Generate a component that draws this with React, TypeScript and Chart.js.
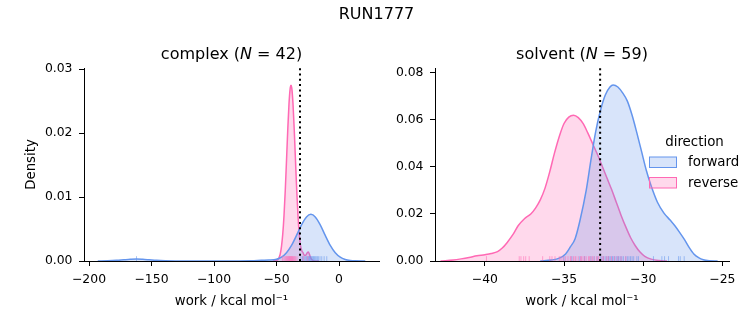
import React, { useEffect, useRef } from "react";
import { Chart, registerables } from "chart.js";

Chart.register(...registerables);

const FONT = '"DejaVu Sans", "Liberation Sans", sans-serif';

// ---------- text ----------
const FIG_TITLE = "RUN1777";
const PANEL_NAMES = ["complex", "solvent"];
const PANEL_COUNTS = [42, 59];
const HUE_NAMES = ["forward", "reverse"];
const LEGEND_TITLE = "direction";
const X_TITLE = "work / kcal mol\u207B\u00B9";
const Y_TITLE = "Density";

// ---------- axes ----------
const complexXRange = [-204, 32];
const complexYMax = 0.0302;
const complexXTicks = [-200, -150, -100, -50, 0];
const complexYTicks = [0, 0.01, 0.02, 0.03];

const solventXRange = [-43.15, -24.58];
const solventYMax = 0.0821;
const solventXTicks = [-40, -35, -30, -25];
const solventYTicks = [0, 0.02, 0.04, 0.06, 0.08];

// ---------- density curves ----------
const complexForwardX = [-193, -185, -178, -172, -167, -162, -157, -152, -146, -139, -131, -120, -100, -80, -70, -62, -56, -50, -46, -42, -38, -34, -30, -26, -22.5, -19, -15, -11, -7, -3, 1, 5, 9, 13, 21];
const complexForwardY = [0.00001, 0.00004, 0.0001, 0.00019, 0.00026, 0.0003, 0.00026, 0.00019, 0.0001, 0.00004, 0.00001, 0, 0, 0, 0.00002, 0.0001, 0.00015, 0.00028, 0.0006, 0.0013, 0.00245, 0.004, 0.00566, 0.0069, 0.0073, 0.0069, 0.00566, 0.004, 0.00245, 0.0013, 0.0006, 0.00024, 0.00008, 0.00002, 0];

const complexReverseX = [-53, -50, -49, -48, -47, -46, -45, -44, -43, -42, -41, -40, -39, -38.4, -37.8, -36.8, -35.8, -34.8, -33.8, -32.8, -31.8, -30.8, -29.8, -28.8, -27.8, -26.6, -25.4, -24.5, -23.6, -22.6, -21.6, -20.5, -18, -16];
const complexReverseY = [0, 0.0001, 0.0002, 0.0005, 0.0011, 0.0023, 0.0042, 0.0071, 0.011, 0.0157, 0.0205, 0.0246, 0.0271, 0.0275, 0.0271, 0.0246, 0.0205, 0.0157, 0.011, 0.0071, 0.0042, 0.0024, 0.0016, 0.0013, 0.0009, 0.0009, 0.0013, 0.0014, 0.001, 0.0005, 0.0002, 0.00005, 0, 0];

const solventForwardX = [-36.5, -35.8, -35.3, -34.9, -34.6, -34.3, -34.0, -33.6, -33.3, -33.0, -32.7, -32.4, -32.1, -31.9, -31.6, -31.3, -31.0, -30.7, -30.4, -30.1, -29.8, -29.5, -29.1, -28.7, -28.3, -28.0, -27.7, -27.4, -27.1, -26.8, -26.5, -26.2, -25.8, -25.3];
const solventForwardY = [0, 0.0004, 0.0012, 0.003, 0.006, 0.0095, 0.017, 0.03, 0.043, 0.055, 0.064, 0.0705, 0.074, 0.0749, 0.074, 0.0715, 0.068, 0.062, 0.0545, 0.0465, 0.0385, 0.032, 0.025, 0.0205, 0.0174, 0.015, 0.0122, 0.0092, 0.0058, 0.003, 0.0014, 0.0005, 0.0001, 0];

const solventReverseX = [-42.8, -42.5, -42.0, -41.5, -41.0, -40.5, -40.0, -39.6, -39.2, -38.9, -38.6, -38.2, -37.9, -37.5, -37.1, -36.8, -36.5, -36.2, -35.9, -35.6, -35.3, -35.0, -34.7, -34.4, -34.1, -33.8, -33.5, -33.2, -32.9, -32.6, -32.3, -32.0, -31.7, -31.4, -31.1, -30.8, -30.5, -30.2, -29.9, -29.5, -29.0, -28.5];
const solventReverseY = [0, 0.0001, 0.0004, 0.0009, 0.0015, 0.0022, 0.0027, 0.0032, 0.004, 0.0055, 0.0078, 0.0115, 0.015, 0.018, 0.02, 0.0225, 0.026, 0.031, 0.038, 0.046, 0.053, 0.0585, 0.0612, 0.062, 0.061, 0.0585, 0.0545, 0.05, 0.0455, 0.0405, 0.0355, 0.0305, 0.025, 0.0195, 0.0145, 0.01, 0.0065, 0.0038, 0.002, 0.0008, 0.0002, 0];

// ---------- rug samples ----------
const complexForwardRug = [-162, -30.5, -29.2, -28.1, -27.2, -26.3, -25.6, -24.9, -24.3, -23.6, -23.0, -22.4, -21.8, -21.1, -20.4, -19.7, -19.0, -18.2, -17.3, -16.5, -15.2, -13.8, -11.9, -9.8];
const complexReverseRug = [-45.3, -44.1, -43.2, -42.5, -41.9, -41.3, -40.8, -40.3, -39.9, -39.5, -39.1, -38.7, -38.3, -37.9, -37.5, -37.1, -36.6, -36.1, -35.5, -34.7, -33.6, -28.6, -25.0];
const solventForwardRug = [-35.0, -34.5, -34.0, -33.7, -33.3, -33.1, -32.9, -32.7, -32.6, -32.5, -32.4, -32.3, -32.2, -32.15, -32.05, -31.95, -31.9, -31.8, -31.7, -31.6, -31.55, -31.45, -31.35, -31.25, -31.1, -31.0, -30.9, -30.8, -30.7, -30.6, -30.4, -30.3, -29.35, -28.82, -28.65, -28.4, -27.77, -27.66, -27.41];
const solventReverseRug = [-39.9, -37.83, -37.72, -37.55, -37.42, -37.2, -36.35, -35.9, -35.76, -35.57, -35.3, -35.19, -35.05, -34.9, -34.75, -34.6, -34.55, -34.4, -34.3, -34.25, -34.1, -33.95, -33.9, -33.8, -33.7, -33.6, -33.45, -33.4, -33.3, -33.2, -33.1, -32.95, -32.85, -32.8, -32.6, -32.5, -32.3, -32.2, -32.0, -31.8, -31.6, -31.4, -31.1];

// ---------- reference lines ----------
const complexRefLine = -31.2;
const solventRefLine = -32.72;

// ---------- styles ----------
const BLUE = "rgb(100,149,237)";
const BLUE_FILL = "rgba(100,149,237,0.25)";
const BLUE_RUG = "rgba(100,149,237,0.55)";
const PINK = "rgb(255,105,180)";
const PINK_FILL = "rgba(255,105,180,0.25)";
const PINK_RUG = "rgba(255,105,180,0.55)";

const W = 753;
const H = 325;
const AREA_TOP = 68;
const AREA_BOTTOM = 261;
const Y_SCALE_W = 60;
const X_SCALE_H = 49;
const PAD_BOTTOM = H - AREA_BOTTOM - X_SCALE_H;

const fmt = (v: number, digits: number) => {
  const s = Math.abs(v).toFixed(digits);
  return v < 0 ? "\u2212" + s : s;
};

type Panel = {
  idx: number;
  areaLeft: number;
  areaRight: number;
  xRange: number[];
  yMax: number;
  xTicks: number[];
  yTicks: number[];
  fwdX: number[];
  fwdY: number[];
  revX: number[];
  revY: number[];
  fwdRug: number[];
  revRug: number[];
  refLine: number;
  showYTitle: boolean;
  legend: boolean;
  figTitle: boolean;
};

function drawMathTitle(ctx: CanvasRenderingContext2D, cx: number, baseline: number, name: string, n: number) {
  const size = 16;
  const normal = `${size}px ${FONT}`;
  const italic = `italic ${size}px ${FONT}`;
  const segs = [
    { t: `${name} (`, f: normal },
    { t: "N", f: italic },
    { t: " = ", f: normal },
    { t: `${n})`, f: normal },
  ];
  let total = 0;
  const widths = segs.map((s) => {
    ctx.font = s.f;
    const w = ctx.measureText(s.t).width;
    total += w;
    return w;
  });
  let x = cx - total / 2;
  ctx.fillStyle = "#000";
  ctx.textBaseline = "alphabetic";
  ctx.textAlign = "left";
  segs.forEach((s, i) => {
    ctx.font = s.f;
    ctx.fillText(s.t, x, baseline);
    x += widths[i];
  });
}

function makeChart(canvas: HTMLCanvasElement, p: Panel) {
  const decor = {
    id: "panelDecor" + p.idx,
    afterDatasetsDraw(chart: any) {
      const { ctx, chartArea: a, scales } = chart;
      ctx.save();
      ctx.beginPath();
      ctx.rect(a.left, a.top, a.right - a.left, a.bottom - a.top);
      ctx.clip();
      const rugH = (a.bottom - a.top) * 0.025;
      const rugs = [
        { vals: p.fwdRug, color: BLUE_RUG },
        { vals: p.revRug, color: PINK_RUG },
      ];
      ctx.lineWidth = 1;
      for (const r of rugs) {
        ctx.strokeStyle = r.color;
        for (const v of r.vals) {
          const x = scales.x.getPixelForValue(v);
          ctx.beginPath();
          ctx.moveTo(x, a.bottom);
          ctx.lineTo(x, a.bottom - rugH);
          ctx.stroke();
        }
      }
      ctx.restore();

      ctx.save();
      const vx = scales.x.getPixelForValue(p.refLine);
      ctx.strokeStyle = "#000";
      ctx.lineWidth = 2;
      ctx.setLineDash([2, 3.3]);
      ctx.beginPath();
      ctx.moveTo(vx, a.bottom);
      ctx.lineTo(vx, a.top);
      ctx.stroke();
      ctx.restore();
    },
    afterDraw(chart: any) {
      const { ctx, chartArea: a } = chart;
      ctx.save();
      if (p.figTitle) {
        ctx.font = `16px ${FONT}`;
        ctx.fillStyle = "#000";
        ctx.textAlign = "center";
        ctx.textBaseline = "alphabetic";
        ctx.fillText(FIG_TITLE, W / 2, 19);
      }
      drawMathTitle(ctx, (a.left + a.right) / 2, 59, PANEL_NAMES[p.idx], PANEL_COUNTS[p.idx]);
      if (p.legend) {
        ctx.font = `13.4px ${FONT}`;
        ctx.fillStyle = "#000";
        ctx.textAlign = "center";
        ctx.textBaseline = "alphabetic";
        ctx.fillText(LEGEND_TITLE, 694.5, 145.5);
        const entries = [
          { label: HUE_NAMES[0], fill: BLUE_FILL, edge: BLUE, y: 157 },
          { label: HUE_NAMES[1], fill: PINK_FILL, edge: PINK, y: 177.5 },
        ];
        for (const e of entries) {
          ctx.fillStyle = e.fill;
          ctx.fillRect(649.5, e.y, 27, 10.5);
          ctx.strokeStyle = e.edge;
          ctx.lineWidth = 1;
          ctx.strokeRect(649.5, e.y, 27, 10.5);
          ctx.fillStyle = "#000";
          ctx.textAlign = "left";
          ctx.fillText(e.label, 688, e.y + 9);
        }
      }
      ctx.restore();
    },
  };

  const tickFont = { family: FONT, size: 12.4 };
  const titleFont = { family: FONT, size: 13.3 };

  return new Chart(canvas, {
    type: "line",
    data: {
      datasets: [
        {
          label: HUE_NAMES[0],
          data: p.fwdX.map((x, i) => ({ x, y: p.fwdY[i] })),
          borderColor: BLUE,
          backgroundColor: BLUE_FILL,
          borderWidth: 1.5,
          fill: "origin",
          pointRadius: 0,
          cubicInterpolationMode: "monotone",
        },
        {
          label: HUE_NAMES[1],
          data: p.revX.map((x, i) => ({ x, y: p.revY[i] })),
          borderColor: PINK,
          backgroundColor: PINK_FILL,
          borderWidth: 1.5,
          fill: "origin",
          pointRadius: 0,
          cubicInterpolationMode: "monotone",
        },
      ],
    },
    options: {
      responsive: false,
      maintainAspectRatio: false,
      devicePixelRatio: 1,
      animation: false,
      events: [],
      layout: {
        padding: {
          left: p.areaLeft - Y_SCALE_W,
          right: W - p.areaRight,
          top: AREA_TOP,
          bottom: PAD_BOTTOM,
        },
      },
      plugins: {
        legend: { display: false },
        title: { display: false },
        tooltip: { enabled: false },
      },
      scales: {
        x: {
          type: "linear",
          min: p.xRange[0],
          max: p.xRange[1],
          afterBuildTicks: (s: any) => {
            s.ticks = p.xTicks.map((value) => ({ value }));
          },
          afterFit: (s: any) => {
            s.height = X_SCALE_H;
          },
          ticks: {
            autoSkip: false,
            maxRotation: 0,
            padding: 6,
            color: "#000",
            font: tickFont,
            callback: (v: any) => fmt(Number(v), 0),
          },
          grid: {
            display: true,
            drawOnChartArea: false,
            drawTicks: true,
            tickLength: 5,
            color: "#000",
            lineWidth: 1,
          },
          border: { display: true, color: "#000", width: 1 },
          title: { display: true, text: X_TITLE, color: "#000", font: titleFont, padding: 0 },
        },
        y: {
          type: "linear",
          min: 0,
          max: p.yMax,
          afterBuildTicks: (s: any) => {
            s.ticks = p.yTicks.map((value) => ({ value }));
          },
          afterFit: (s: any) => {
            s.width = Y_SCALE_W;
          },
          ticks: {
            autoSkip: false,
            padding: 6.5,
            color: "#000",
            font: tickFont,
            callback: (v: any) => fmt(Number(v), 2),
          },
          grid: {
            display: true,
            drawOnChartArea: false,
            drawTicks: true,
            tickLength: 5,
            color: "#000",
            lineWidth: 1,
          },
          border: { display: true, color: "#000", width: 1 },
          title: {
            display: p.showYTitle,
            text: Y_TITLE,
            color: "#000",
            font: titleFont,
            padding: { top: 0, bottom: 0 },
          },
        },
      },
    } as any,
    plugins: [decor],
  });
}

export default function App() {
  const leftRef = useRef<HTMLCanvasElement>(null);
  const rightRef = useRef<HTMLCanvasElement>(null);

  useEffect(() => {
    Chart.defaults.font.family = FONT;
    const c1 = makeChart(leftRef.current!, {
      idx: 0,
      areaLeft: 84,
      areaRight: 379,
      xRange: complexXRange,
      yMax: complexYMax,
      xTicks: complexXTicks,
      yTicks: complexYTicks,
      fwdX: complexForwardX,
      fwdY: complexForwardY,
      revX: complexReverseX,
      revY: complexReverseY,
      fwdRug: complexForwardRug,
      revRug: complexReverseRug,
      refLine: complexRefLine,
      showYTitle: true,
      legend: false,
      figTitle: true,
    });
    const c2 = makeChart(rightRef.current!, {
      idx: 1,
      areaLeft: 435,
      areaRight: 729,
      xRange: solventXRange,
      yMax: solventYMax,
      xTicks: solventXTicks,
      yTicks: solventYTicks,
      fwdX: solventForwardX,
      fwdY: solventForwardY,
      revX: solventReverseX,
      revY: solventReverseY,
      fwdRug: solventForwardRug,
      revRug: solventReverseRug,
      refLine: solventRefLine,
      showYTitle: false,
      legend: true,
      figTitle: false,
    });
    return () => {
      c1.destroy();
      c2.destroy();
    };
  }, []);

  const cs: React.CSSProperties = { position: "absolute", left: 0, top: 0 };
  return (
    <div style={{ position: "absolute", left: 0, top: 0, width: W, height: H, background: "#fff" }}>
      <canvas ref={leftRef} width={W} height={H} style={cs} />
      <canvas ref={rightRef} width={W} height={H} style={cs} />
    </div>
  );
}
